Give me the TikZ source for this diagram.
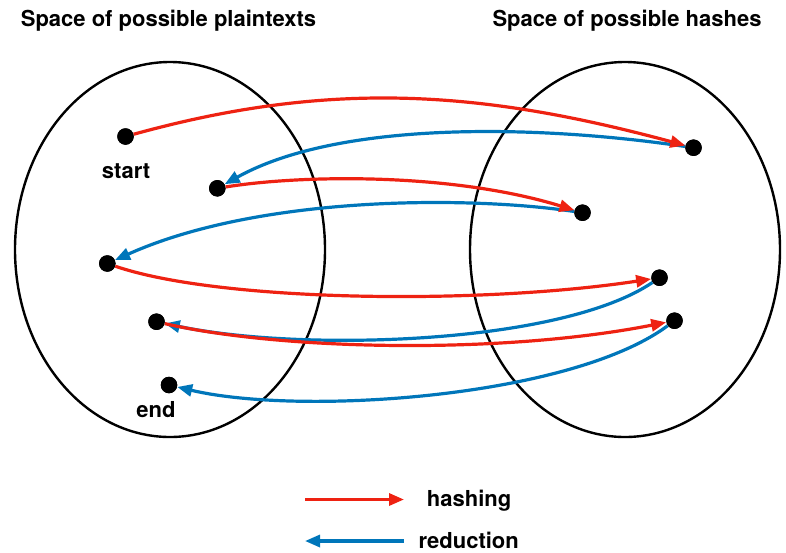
\documentclass[tikz,border=0pt]{standalone}
\usepackage{fontspec}
\setmainfont{TeX Gyre Heros}
\usetikzlibrary{arrows.meta,shapes.geometric}
\definecolor{hashred}{RGB}{238,34,18}
\definecolor{redblue}{RGB}{0,118,186}
\begin{document}
\begin{tikzpicture}[x=1pt,y=-1pt,
  dot/.style={circle,fill=black,inner sep=0pt,minimum size=16.5pt},
  space/.style={draw=black,line width=2.4pt,ellipse,inner sep=0pt,minimum width=310pt,minimum height=375pt},
  lbl/.style={font=\bfseries\fontsize{22}{26}\selectfont,anchor=base,inner sep=0pt},
  hashing/.style={draw=hashred,line width=3.2pt,-{Triangle[length=15pt,width=12pt]}},
  reduction/.style={draw=redblue,line width=3.2pt,-{Triangle[length=15pt,width=12pt]}}]
\useasboundingbox (0,0) rectangle (786,552);
\node[space] (L) at (170,249.5) {};
\node[space] (R) at (625,249.5) {};
\node[lbl] (tL) at (168.5,26.7) {Space of possible plaintexts};
\node[lbl] (tR) at (627,26.7) {Space of possible hashes};
% dots
\node[dot] (s) at (125.5,136.5) {};
\node[dot] (p2) at (217.3,188.3) {};
\node[dot] (p3) at (107.3,263.5) {};
\node[dot] (p4) at (156.5,321.7) {};
\node[dot] (e) at (169,385) {};
\node[dot] (h1) at (693.5,147.7) {};
\node[dot] (h2) at (582.5,212.7) {};
\node[dot] (h3) at (659.5,277.7) {};
\node[dot] (h4) at (674.5,320.7) {};
\node[lbl] (ls) at (126,178) {start};
\node[lbl] (le) at (156,417) {end};
% reduction
\draw[reduction] (h1) .. controls (540,125) and (340,120) .. (p2);
\draw[reduction] (h2) .. controls (470,196) and (260,195) .. (p3);
\draw[reduction] (h3) .. controls (560,345) and (300,352) .. (p4);
\draw[reduction] (h4) .. controls (570,398) and (300,416) .. (e);
% hashing
\draw[hashing] (s) .. controls (330,80) and (480,90) .. (h1);
\draw[hashing] (p2) .. controls (300,175) and (450,172) .. (h2);
\draw[hashing] (p3) .. controls (220,302) and (480,305) .. (h3);
\draw[hashing] (p4) .. controls (280,350) and (500,355) .. (h4);
% redraw dots on top
\foreach \n in {s,p2,p3,p4,e,h1,h2,h3,h4} \fill (\n) circle (8.25pt);
% legend
\coordinate (a1) at (305,499.5);
\coordinate (a2) at (404,499.5);
\coordinate (b1) at (404,541);
\coordinate (b2) at (305,541);
\draw[hashing] (a1) -- (a2);
\draw[reduction] (b1) -- (b2);
\node[lbl,anchor=base west] (lh) at (426.7,506.7) {hashing};
\node[lbl,anchor=base west,text depth=0pt] (lr) at (418.3,548.5) {reduction};
\end{tikzpicture}
\end{document}
